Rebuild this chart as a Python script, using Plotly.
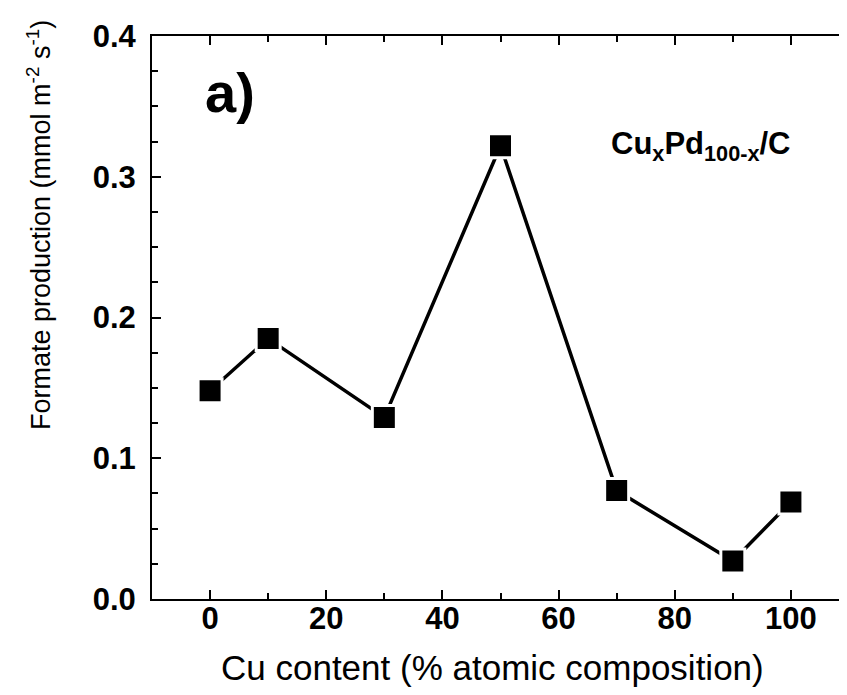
import plotly.graph_objects as go

cu_content = [0, 10, 30, 50, 70, 90, 100]
formate = [0.148, 0.185, 0.129, 0.322, 0.077, 0.027, 0.069]

x_ticks = [0, 20, 40, 60, 80, 100]
y_ticks = [0.0, 0.1, 0.2, 0.3, 0.4]
y_tick_labels = ["0.0", "0.1", "0.2", "0.3", "0.4"]

FONT = "Liberation Sans, Arial, sans-serif"

fig = go.Figure()
fig.add_trace(go.Scatter(
    x=cu_content, y=formate, mode="lines+markers",
    line=dict(color="black", width=3.5),
    marker=dict(symbol="square", size=24, color="black",
                line=dict(color="white", width=3)),
    showlegend=False, cliponaxis=False,
))

axis_common = dict(
    showline=True, linecolor="black", linewidth=2, mirror="ticks",
    ticks="inside", ticklen=9, tickwidth=2, tickcolor="black",
    showgrid=False, zeroline=False,
)

fig.update_xaxes(
    range=[-10, 110], tickvals=x_ticks, ticktext=[str(v) for v in x_ticks],
    tickfont=dict(family=FONT, size=31, color="black", weight="bold"),
    minor=dict(dtick=10, tick0=0, ticks="inside", ticklen=6, tickwidth=2, tickcolor="black"),
    ticklabelstandoff=-9,
    **axis_common,
)
fig.update_yaxes(
    range=[0, 0.4], tickvals=y_ticks, ticktext=y_tick_labels,
    tickfont=dict(family=FONT, size=31, color="black", weight="bold"),
    minor=dict(dtick=0.025, tick0=0, ticks="inside", ticklen=6, tickwidth=2, tickcolor="black"),
    ticklabelstandoff=8,
    **axis_common,
)

fig.add_annotation(
    text="Cu content (% atomic composition)",
    xref="paper", yref="paper", x=0.488, y=-0.122,
    showarrow=False, xanchor="center", yanchor="middle",
    font=dict(family=FONT, size=35, color="black"),
)
fig.add_annotation(
    text="Formate production (mmol m<sup>-2</sup> s<sup>-1</sup>)",
    xref="paper", yref="paper", x=-0.163, y=0.665, textangle=-90,
    showarrow=False, xanchor="center", yanchor="middle",
    font=dict(family=FONT, size=27, color="black"),
)
fig.add_annotation(
    text="<b>a)</b>", xref="x", yref="y", x=3.5, y=0.360,
    showarrow=False, xanchor="center", yanchor="middle",
    font=dict(family=FONT, size=56, color="black"),
)
fig.add_annotation(
    text="<b>Cu<sub>x</sub>Pd<sub>100-x</sub>/C</b>", xref="x", yref="y", x=84.5, y=0.322,
    showarrow=False, xanchor="center", yanchor="middle",
    font=dict(family=FONT, size=31, color="black"),
)

fig.update_layout(
    width=847, height=695,
    margin=dict(l=144, r=4, t=28, b=104),
    paper_bgcolor="white", plot_bgcolor="white",
)

fig.write_html("out.html")
